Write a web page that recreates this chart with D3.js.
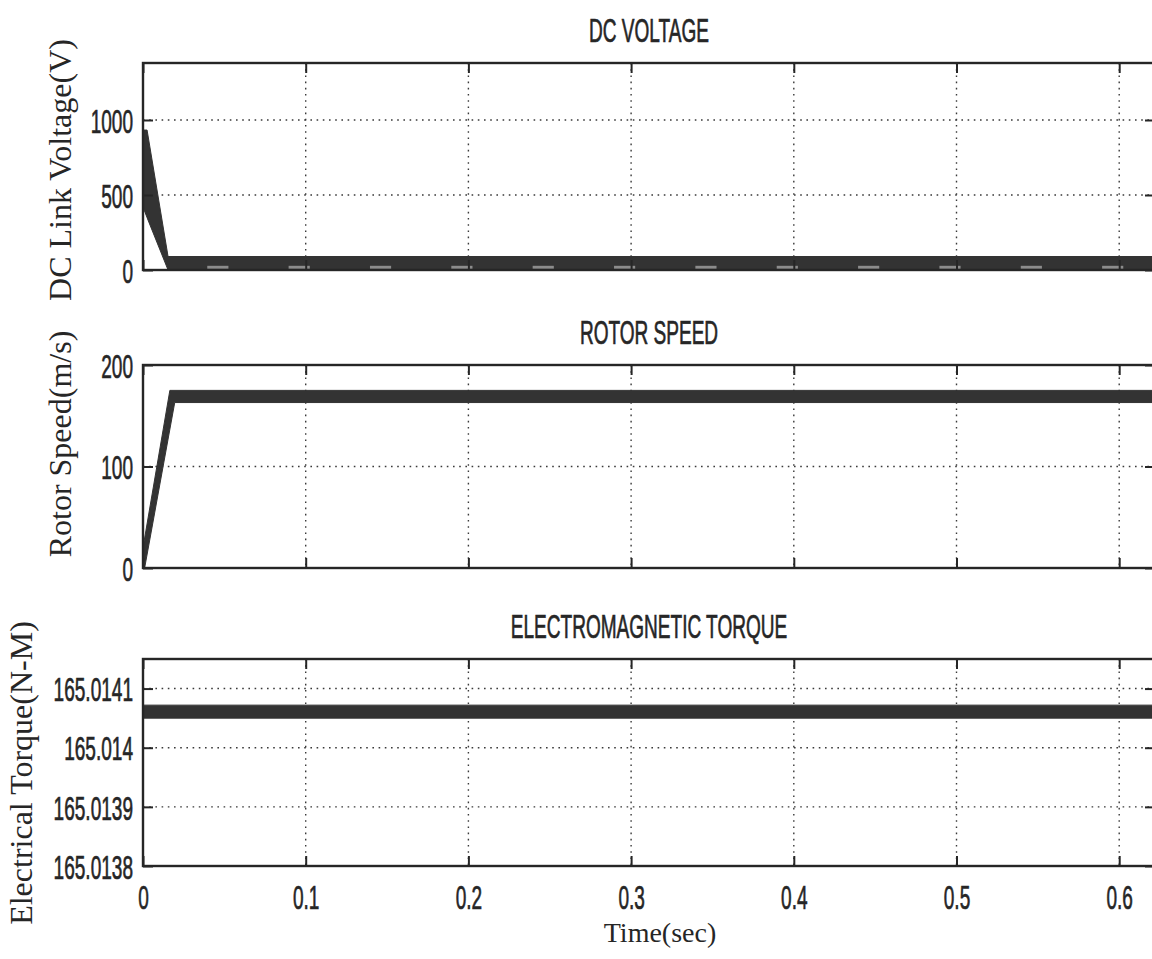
<!DOCTYPE html>
<html><head><meta charset="utf-8">
<script src="https://cdn.jsdelivr.net/npm/d3@7"></script>
<style>
html,body{margin:0;padding:0;background:#fff;overflow:hidden}
svg{display:block}
</style></head><body>
<svg id="chart" width="1152" height="959"></svg>
<script>
// ---- time axis ----
const xMax = 0.622;
const xTicks = [0, 0.1, 0.2, 0.3, 0.4, 0.5, 0.6];
const xTickLabels = ["0", "0.1", "0.2", "0.3", "0.4", "0.5", "0.6"];

// ---- DC link voltage (V): envelope of the switching ripple ----
const dcYMax = 1380;
const dcTicks = [0, 500, 1000];
const dcTickLabels = ["0", "500", "1000"];
const dcUpperT = [0, 0.0025, 0.0154, 0.622];
const dcUpperV = [933, 933, 90, 90];
const dcLowerT = [0, 0.0025, 0.0154, 0.622];
const dcLowerV = [420, 349, 0, 0];
// lighter spots along the bottom of the ripple band
const dcGapTimes = [0.046, 0.096, 0.146, 0.196, 0.246, 0.296, 0.346, 0.396, 0.446, 0.496, 0.546, 0.596];

// ---- rotor speed ----
const rsYMax = 200;
const rsTicks = [0, 100, 200];
const rsTickLabels = ["0", "100", "200"];
const rsUpperT = [0, 0.0165, 0.622];
const rsUpperV = [20, 175, 175];
const rsLowerT = [0.001, 0.0195, 0.622];
const rsLowerV = [0, 163, 163];

// ---- electromagnetic torque ----
const tqYMin = 165.0138, tqYMax = 165.01415;
const tqTicks = [165.0138, 165.0139, 165.0140, 165.0141];
const tqTickLabels = ["165.0138", "165.0139", "165.014", "165.0141"];
const tqUpperT = [0, 0.622];
const tqUpperV = [165.014072, 165.014072];
const tqLowerT = [0, 0.622];
const tqLowerV = [165.01405, 165.01405];

// ---- layout ----
const plotLeft = 143, plotRight = 1155;
const SX = 0.56;            // horizontal squeeze for the narrow sans lettering
const sansFont = "'Liberation Sans', Arial, sans-serif";
const serifFont = "'Liberation Serif', 'Times New Roman', serif";
const ink = "#262626";

const svg = d3.select("#chart");
svg.append("rect").attr("width", 1152).attr("height", 959).attr("fill", "#fff");

const x = d3.scaleLinear().domain([0, xMax]).range([plotLeft, plotRight]);

const panels = [
  { title: "DC VOLTAGE", ylabel: "DC Link Voltage(V)", top: 63, bottom: 270,
    domain: [0, dcYMax], ticks: dcTicks, labels: dcTickLabels,
    up: [dcUpperT, dcUpperV], lo: [dcLowerT, dcLowerV], ylx: 60, yly: 170, gaps: dcGapTimes },
  { title: "ROTOR SPEED", ylabel: "Rotor Speed(m/s)", top: 365, bottom: 568,
    domain: [0, rsYMax], ticks: rsTicks, labels: rsTickLabels,
    up: [rsUpperT, rsUpperV], lo: [rsLowerT, rsLowerV], ylx: 60, yly: 444 },
  { title: "ELECTROMAGNETIC TORQUE", ylabel: "Electrical Torque(N-M)", top: 659, bottom: 866,
    domain: [tqYMin, tqYMax], ticks: tqTicks, labels: tqTickLabels,
    up: [tqUpperT, tqUpperV], lo: [tqLowerT, tqLowerV], ylx: 21, yly: 773, xlabels: true }
];

const defs = svg.append("defs");

function sansStyle(sel) {
  return sel.attr("font-family", sansFont).attr("font-size", 34).attr("fill", ink)
    .attr("stroke", ink).attr("stroke-width", 0.7);
}

function sansText(g, px, py, str, anchor) {
  return sansStyle(g.append("text")
    .attr("transform", `translate(${px},${py}) scale(${SX},1)`)
    .attr("text-anchor", anchor))
    .text(str);
}

panels.forEach((p, k) => {
  const y = d3.scaleLinear().domain(p.domain).range([p.bottom, p.top]);
  const g = svg.append("g");

  defs.append("clipPath").attr("id", "clip" + k)
    .append("rect").attr("x", plotLeft).attr("y", p.top)
    .attr("width", plotRight - plotLeft).attr("height", p.bottom - p.top);

  // dotted grid
  const grid = g.append("g").attr("stroke", "#3a3a3a").attr("stroke-width", 1.4)
    .attr("stroke-dasharray", "1.6,4.6").attr("fill", "none");
  grid.selectAll("line.v").data(xTicks.filter(t => t > 0)).join("line")
    .attr("x1", d => x(d)).attr("x2", d => x(d)).attr("y1", p.top).attr("y2", p.bottom);
  grid.selectAll("line.h").data(p.ticks.filter(t => t > p.domain[0] && t < p.domain[1])).join("line")
    .attr("x1", plotLeft).attr("x2", plotRight).attr("y1", d => y(d)).attr("y2", d => y(d));

  // signal band: upper envelope followed by the reversed lower envelope
  const pts = p.up[0].map((t, i) => [t, p.up[1][i]])
    .concat(p.lo[0].map((t, i) => [t, p.lo[1][i]]).reverse());
  const band = d3.line().x(d => x(d[0])).y(d => y(d[1]));
  g.append("path").attr("clip-path", `url(#clip${k})`)
    .attr("d", band(pts) + "Z").attr("fill", "#333").attr("stroke", "#333").attr("stroke-width", 1);

  if (p.gaps) {
    g.append("g").attr("clip-path", `url(#clip${k})`).selectAll("rect").data(p.gaps).join("rect")
      .attr("x", d => x(d - 0.0065)).attr("width", x(0.013) - x(0))
      .attr("y", y(28)).attr("height", y(8) - y(28))
      .attr("fill", "#8c8c8c");
  }

  // box
  g.append("rect").attr("x", plotLeft).attr("y", p.top)
    .attr("width", plotRight - plotLeft).attr("height", p.bottom - p.top)
    .attr("fill", "none").attr("stroke", ink).attr("stroke-width", 2.4);

  // inward ticks on all four sides
  const styleAxis = a => { a.select(".domain").remove(); a.selectAll("line").attr("stroke", ink).attr("stroke-width", 2); };

  const left = g.append("g").attr("transform", `translate(${plotLeft},0)`)
    .call(d3.axisLeft(y).tickValues(p.ticks).tickFormat((d, i) => p.labels[i])
      .tickSizeInner(-10).tickSizeOuter(0).tickPadding(10));
  styleAxis(left);
  sansStyle(left.selectAll("text")
    .attr("x", -10 / SX).attr("dy", "0.36em")
    .attr("transform", `scale(${SX},1)`));

  const right = g.append("g").attr("transform", `translate(${plotRight},0)`)
    .call(d3.axisRight(y).tickValues(p.ticks).tickFormat("").tickSizeInner(-10).tickSizeOuter(0));
  styleAxis(right);

  const topAx = g.append("g").attr("transform", `translate(0,${p.top})`)
    .call(d3.axisTop(x).tickValues(xTicks).tickFormat("").tickSizeInner(-10).tickSizeOuter(0));
  styleAxis(topAx);

  const bottom = g.append("g").attr("transform", `translate(0,${p.bottom})`)
    .call(d3.axisBottom(x).tickValues(xTicks)
      .tickFormat((d, i) => p.xlabels ? xTickLabels[i] : "")
      .tickSizeInner(-10).tickSizeOuter(0).tickPadding(19));
  styleAxis(bottom);
  sansStyle(bottom.selectAll("text").attr("transform", `scale(${SX},1)`));

  // title
  sansText(g, (plotLeft + plotRight) / 2, p.top - 21, p.title, "middle");

  // y label
  g.append("text")
    .attr("transform", `translate(${p.ylx},${p.yly}) rotate(-90)`)
    .attr("text-anchor", "middle").attr("dy", "0.35em")
    .attr("font-family", serifFont).attr("font-size", 32).attr("fill", ink)
    .text(p.ylabel);
});

svg.append("text")
  .attr("x", 660).attr("y", 942).attr("text-anchor", "middle")
  .attr("font-family", serifFont).attr("font-size", 28).attr("fill", ink)
  .text("Time(sec)");
</script>
</body></html>
